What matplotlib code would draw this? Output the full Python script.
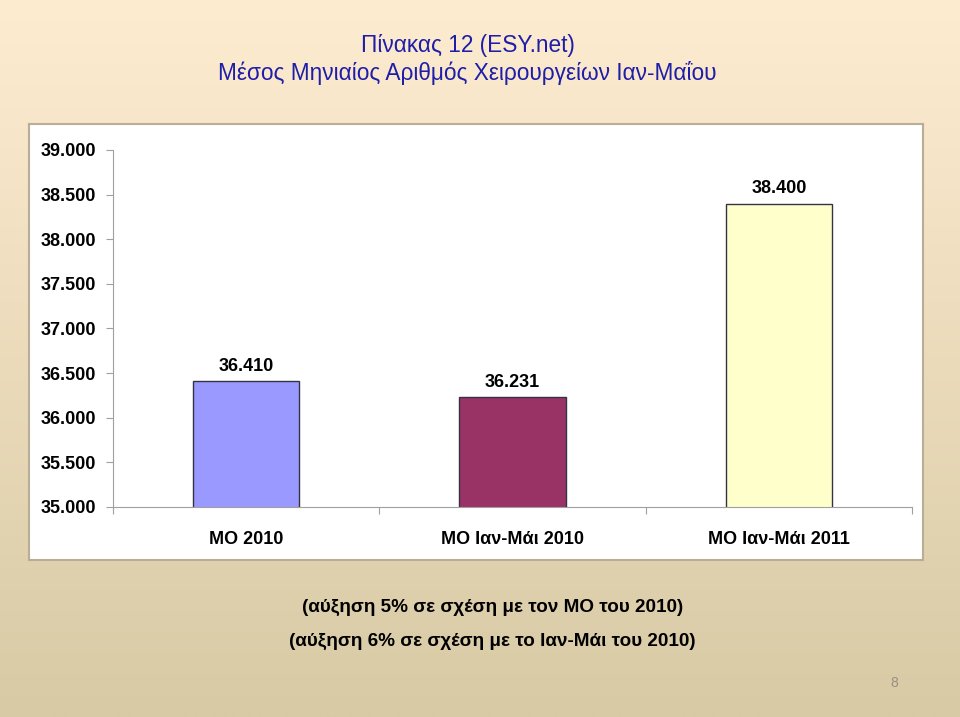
import numpy as np
import matplotlib
matplotlib.use("Agg")
import matplotlib.pyplot as plt
from matplotlib.ticker import FuncFormatter

# data
categories = ["ΜΟ 2010", "ΜΟ Ιαν-Μάι 2010", "ΜΟ Ιαν-Μάι 2011"]
values = [36410, 36231, 38400]
bar_colors = ["#9999FF", "#993366", "#FFFFCC"]
yticks = [35000, 35500, 36000, 36500, 37000, 37500, 38000, 38500, 39000]

title1 = "Πίνακας 12 (ESY.net)"
title2 = "Μέσος Μηνιαίος Αριθμός Χειρουργείων Ιαν-Μαΐου"
note1 = "(αύξηση 5% σε σχέση με τον ΜΟ του 2010)"
note2 = "(αύξηση 6% σε σχέση με το Ιαν-Μάι του 2010)"

plt.rcParams['font.family'] = ['Liberation Sans', 'DejaVu Sans']

def dots(v, pos=None):
    return "{:,.0f}".format(v).replace(",", ".")

fig = plt.figure(figsize=(9.6, 7.17), dpi=100)

# background gradient
bg = fig.add_axes([0, 0, 1, 1], zorder=-10)
grad = np.linspace(0, 1, 256)[:, None]
top = np.array([254, 236, 209]) / 255.0
bot = np.array([216, 202, 165]) / 255.0
img = top[None, None, :] * (1 - grad[:, :, None]) + bot[None, None, :] * grad[:, :, None]
bg.imshow(img, aspect="auto", extent=[0, 1, 0, 1])
bg.set_axis_off()

# white chart box
box = fig.add_axes([0.0302, 0.219, 0.931, 0.608], zorder=-5)
box.set_xticks([])
box.set_yticks([])
box.set_facecolor("white")
for s in box.spines.values():
    s.set_color("#B8AE98")
    s.set_linewidth(1.5)

ax = fig.add_axes([0.1177, 0.2929, 0.8323, 0.4979], zorder=1)
ax.patch.set_alpha(0)
x = np.arange(len(categories))
ax.bar(x, values, width=0.4, color=bar_colors, edgecolor="#333344", linewidth=1.0)
for xi, v in zip(x, values):
    ax.text(xi, v + 70, dots(v), ha="center", va="bottom", fontsize=13, fontweight="bold")

ax.set_xlim(-0.5, 2.5)
ax.set_ylim(35000, 39000)
ax.set_yticks(yticks)
ax.yaxis.set_major_formatter(FuncFormatter(dots))
ax.set_xticks([-0.5, 0.5, 1.5, 2.5])
ax.set_xticklabels([])
ax.set_xticks(x, minor=True)
ax.set_xticklabels(categories, minor=True)
ax.tick_params(axis="x", which="major", length=5, color="#A0A0A0")
ax.tick_params(axis="x", which="minor", length=0, pad=17, labelsize=13)
ax.tick_params(axis="y", length=5, color="#A0A0A0", pad=7, labelsize=13)
for lab in ax.get_xticklabels(minor=True) + ax.get_yticklabels():
    lab.set_fontweight("bold")
for s in ["top", "right"]:
    ax.spines[s].set_visible(False)
for s in ["left", "bottom"]:
    ax.spines[s].set_color("#A0A0A0")

fig.text(0.487, 0.937, title1, ha="center", va="center", fontsize=16.3, color="#1E1EA8")
fig.text(0.487, 0.898, title2, ha="center", va="center", fontsize=16.3, color="#1E1EA8")
fig.text(0.513, 0.153, note1, ha="center", va="center", fontsize=13.6, fontweight="bold")
fig.text(0.513, 0.106, note2, ha="center", va="center", fontsize=13.6, fontweight="bold")
fig.text(0.932, 0.047, "8", ha="center", va="center", fontsize=10, color="#999080")

fig.savefig("out.png", dpi=100)
